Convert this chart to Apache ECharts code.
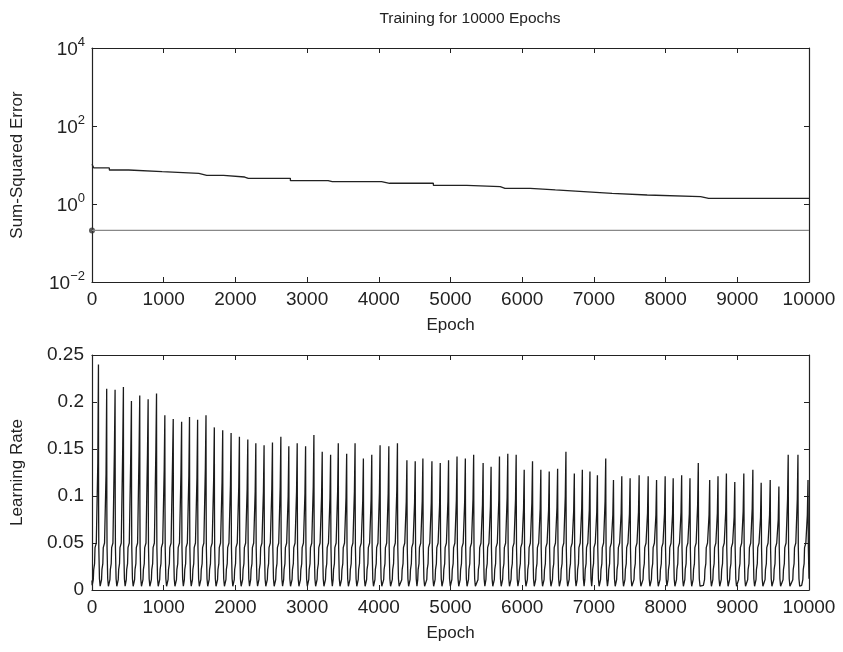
<!DOCTYPE html>
<html><head><meta charset="utf-8">
<script src="https://cdn.jsdelivr.net/npm/echarts@6/dist/echarts.min.js"></script>
<style>html,body{margin:0;padding:0;background:#fff}#c{width:843px;height:652px}</style>
</head><body><div id="c"></div>
<script>
// ---- Top panel: sum-squared error (step curve, with small blips) ----
const errEpochs = [0, 25, 242, 512, 978, 1490, 1600, 1615, 1835, 2129, 2180, 2200, 2767, 3293, 3350, 3365, 4039, 4150, 4165, 4761, 4830, 4845, 5227, 5693, 5760, 5775, 6112, 6462, 6857, 7254, 7743, 8488, 8600, 8615, 8850, 8865, 9100, 9115, 10000];
const errValues = [10.4, 8.4, 7.44, 6.73, 6.12, 5.44, 5.9, 5.44, 4.92, 4.56, 4.8, 4.56, 3.96, 3.73, 3.95, 3.73, 3.40, 3.6, 3.40, 3.02, 2.9, 3.02, 2.78, 2.53, 2.68, 2.53, 2.29, 2.07, 1.88, 1.70, 1.54, 1.40, 1.5, 1.40, 1.5, 1.40, 1.5, 1.40, 1.40];
const goalValue = 0.21;

// ---- Bottom panel: learning rate cycles ----
const peakEpochs = [90,205,322,438,550,666,783,900,1016,1133,1250,1360,1473,1590,1706,1823,1940,2056,2173,2285,2400,2517,2634,2745,2862,2979,3095,3211,3328,3435,3552,3669,3785,3902,4018,4140,4260,4392,4508,4615,4741,4857,4973,5091,5207,5323,5455,5566,5683,5799,5916,6028,6144,6260,6377,6494,6610,6727,6839,6945,7049,7165,7273,7389,7505,7631,7757,7874,7994,8106,8224,8340,8456,8615,8731,8848,8965,9091,9217,9333,9459,9580,9710,9846,9986];
const peakValues = [0.240,0.214,0.213,0.216,0.201,0.207,0.203,0.209,0.186,0.182,0.179,0.184,0.181,0.186,0.173,0.170,0.167,0.163,0.160,0.156,0.154,0.157,0.163,0.153,0.156,0.153,0.165,0.147,0.144,0.156,0.145,0.156,0.140,0.144,0.154,0.153,0.156,0.138,0.137,0.140,0.137,0.135,0.138,0.142,0.140,0.144,0.135,0.131,0.142,0.145,0.144,0.128,0.137,0.128,0.126,0.129,0.147,0.124,0.128,0.126,0.122,0.140,0.117,0.121,0.119,0.122,0.121,0.117,0.121,0.119,0.122,0.119,0.135,0.117,0.121,0.124,0.115,0.124,0.128,0.114,0.117,0.110,0.144,0.144,0.117];
const kneeValues = [0.135,0.124,0.151,0.154,0.145,0.150,0.146,0.150,0.128,0.140,0.125,0.122,0.120,0.130,0.118,0.115,0.112,0.110,0.108,0.105,0.105,0.108,0.110,0.100,0.105,0.103,0.110,0.100,0.098,0.105,0.099,0.105,0.095,0.097,0.104,0.103,0.106,0.094,0.093,0.095,0.093,0.091,0.094,0.096,0.095,0.097,0.091,0.089,0.096,0.099,0.097,0.087,0.093,0.087,0.085,0.088,0.100,0.084,0.087,0.085,0.083,0.095,0.080,0.082,0.081,0.083,0.082,0.080,0.082,0.081,0.083,0.081,0.091,0.080,0.082,0.084,0.078,0.084,0.087,0.077,0.080,0.075,0.097,0.097,0.080];
const kneeOffset = -9;
const riseOffsets = [-88, -72, -66, -54, -48, -30];
const riseValues  = [0.005, 0.011, 0.022, 0.028, 0.045, 0.05];
const fallOffsets = [2, 5, 14, 24];
const fallValues  = [0.09, 0.045, 0.012, 0.004];
const lrStart = [0, 0.01];

// build lr polyline
const lrData = [lrStart.slice()];
let last = lrStart[0];
for (let i = 0; i < peakEpochs.length; i++) {
  const P = peakEpochs[i];
  for (let j = 0; j < riseOffsets.length; j++) {
    const e = P + riseOffsets[j];
    if (e > last + 1) { lrData.push([e, riseValues[j]]); last = e; }
  }
  lrData.push([P + kneeOffset, kneeValues[i]]);
  lrData.push([P, peakValues[i]]);
  last = P;
  for (let j = 0; j < fallOffsets.length; j++) {
    const e = P + fallOffsets[j];
    if (e <= 10000) { lrData.push([e, fallValues[j]]); last = e; }
  }
}
const errData = errEpochs.map((e, i) => [e, errValues[i]]);

const FONT = 'Liberation Sans';
const TXT = '#222';
const tickColor = '#222';
const noZero = { onZero: false, lineStyle: { color: tickColor, width: 1.2 } };
function xAxisMain(gi) {
  return {
    type: 'value', gridIndex: gi, min: 0, max: 10000, interval: 1000, position: 'bottom',
    name: 'Epoch', nameLocation: 'middle', nameGap: 35,
    nameTextStyle: { fontFamily: FONT, fontSize: 17, color: TXT },
    axisLine: noZero,
    axisTick: { inside: true, length: 5, lineStyle: { color: tickColor } },
    axisLabel: { fontFamily: FONT, fontSize: 19, color: TXT, margin: 8, formatter: v => String(v) },
    splitLine: { show: false }
  };
}
function xAxisTop(gi) {
  return {
    type: 'value', gridIndex: gi, min: 0, max: 10000, interval: 1000, position: 'top',
    axisLine: noZero,
    axisTick: { inside: true, length: 5, lineStyle: { color: tickColor } },
    axisLabel: { show: false }, splitLine: { show: false }
  };
}
const supFmt = v => {
  const ex = Math.round(Math.log10(v));
  return '{b|10}{s|' + (ex < 0 ? '\u2212' + (-ex) : ex) + '}';
};
const richSup = {
  b: { fontFamily: FONT, fontSize: 19, color: TXT, verticalAlign: 'bottom', lineHeight: 22 },
  s: { fontFamily: FONT, fontSize: 13, color: TXT, verticalAlign: 'bottom', lineHeight: 22, padding: [0, 0, 10, 0] }
};

const option = {
  animation: false,
  backgroundColor: '#fff',
  title: {
    text: 'Training for 10000 Epochs', left: 465, top: 6, textAlign: 'center',
    textStyle: { fontFamily: FONT, fontSize: 15.5, fontWeight: 'normal', color: TXT }
  },
  grid: [
    { left: 92, top: 48, width: 717, height: 234 },
    { left: 92, top: 355, width: 717, height: 235 }
  ],
  xAxis: [ xAxisMain(0), xAxisTop(0), xAxisMain(1), xAxisTop(1) ],
  yAxis: [
    {
      type: 'log', gridIndex: 0, logBase: 10, min: 0.01, max: 10000, interval: 2,
      name: 'Sum-Squared Error', nameLocation: 'middle', nameGap: 66,
      nameTextStyle: { fontFamily: FONT, fontSize: 17, color: TXT },
      axisLine: noZero,
      axisTick: { show: true, inside: true, length: 5, lineStyle: { color: tickColor } },
      minorTick: { show: false },
      axisLabel: { formatter: supFmt, rich: richSup, margin: 7 },
      splitLine: { show: false }
    },
    {
      type: 'log', gridIndex: 0, logBase: 10, min: 0.01, max: 10000, interval: 2, position: 'right',
      axisLine: noZero,
      axisTick: { show: true, inside: true, length: 5, lineStyle: { color: tickColor } },
      axisLabel: { show: false }, splitLine: { show: false }
    },
    {
      type: 'value', gridIndex: 1, min: 0, max: 0.25, interval: 0.05,
      name: 'Learning Rate', nameLocation: 'middle', nameGap: 66,
      nameTextStyle: { fontFamily: FONT, fontSize: 17, color: TXT },
      axisLine: noZero,
      axisTick: { show: true, inside: true, length: 5, lineStyle: { color: tickColor } },
      axisLabel: { fontFamily: FONT, fontSize: 19, color: TXT, margin: 8 },
      splitLine: { show: false }
    },
    {
      type: 'value', gridIndex: 1, min: 0, max: 0.25, interval: 0.05, position: 'right',
      axisLine: noZero,
      axisTick: { show: true, inside: true, length: 5, lineStyle: { color: tickColor } },
      axisLabel: { show: false }, splitLine: { show: false }
    }
  ],
  series: [
    {
      type: 'line', xAxisIndex: 0, yAxisIndex: 0, data: [[0, goalValue], [10000, goalValue]],
      showSymbol: false, lineStyle: { color: '#888', width: 1.2 }, silent: true
    },
    {
      type: 'scatter', xAxisIndex: 0, yAxisIndex: 0, data: [[0, goalValue]],
      symbolSize: 6, itemStyle: { color: '#333' }, clip: false
    },
    {
      type: 'line', xAxisIndex: 0, yAxisIndex: 0, data: errData, step: 'end',
      showSymbol: false, lineStyle: { color: '#222', width: 1.3 }
    },
    {
      type: 'line', xAxisIndex: 2, yAxisIndex: 2, data: lrData,
      showSymbol: false, lineStyle: { color: '#1a1a1a', width: 1.3 }
    }
  ]
};
const chart = echarts.init(document.getElementById('c'), null, { renderer: 'canvas' });
chart.setOption(option);
</script></body></html>
